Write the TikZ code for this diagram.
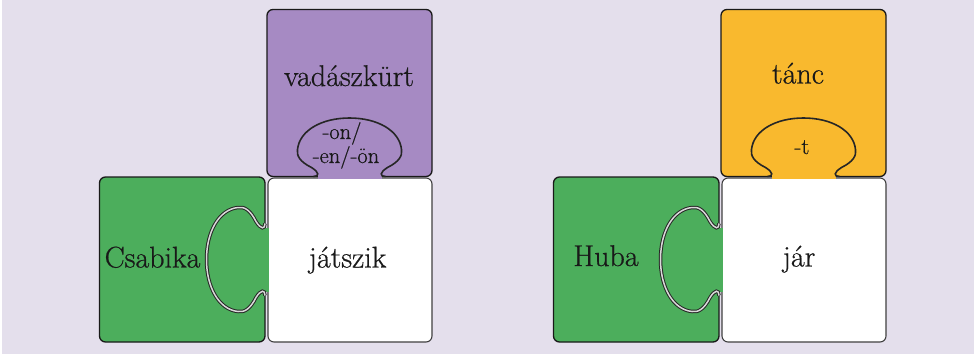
\documentclass[tikz,border=0pt]{standalone}
\usepackage{fontspec}
\newfontfamily\piecefont{Latin Modern Roman}[FakeBold=0.6]
\definecolor{bg}{HTML}{E4DFEC}
\definecolor{lilac}{HTML}{A68AC3}
\definecolor{leaf}{HTML}{4CAE5C}
\definecolor{amber}{HTML}{F9B92E}
\begin{document}
\begin{tikzpicture}[x=1pt,y=1pt,
  piece/.style={draw=black!90, line width=1.3pt, rounded corners=6pt},
  blank/.style={fill=white, draw=black!75, line width=1.1pt, rounded corners=6pt},
  bulb/.style={draw=black!85, line width=1.6pt},
  hole/.style={draw=black!85, line width=1pt, double=white!85!black, double distance=1.5pt},
  lbl/.style={font=\piecefont\fontsize{30}{32}\selectfont, anchor=base, inner sep=0pt, text=black!90},
  sfx/.style={font=\piecefont\fontsize{22.5}{24}\selectfont, anchor=base, inner sep=0pt, text=black!90},
  tabpath/.pic={\path[pic actions] (-36,0) .. controls (-30,0) and (-30,4) .. (-38,9)
     .. controls (-50,15) and (-53,21) .. (-52,27)
     .. controls (-50,46) and (-28,58.5) .. (0,58.5)
     .. controls (28,58.5) and (50,46) .. (52,27)
     .. controls (53,21) and (50,15) .. (38,9)
     .. controls (30,4) and (30,0) .. (36,0);}]
\useasboundingbox (0,0) rectangle (974,-354);
\fill[bg] (0,0) rectangle (974,-354);
\fill[white] (0,0) rectangle (2,-354);

\foreach \dx/\top in {0/lilac, 454/amber}{
  \begin{scope}[xshift=\dx pt]
    % white piece
    \path[blank] (268,-178) rectangle (432,-342);
    % green piece
    \path[piece, fill=leaf] (99.5,-177) rectangle (265,-342);
    % top piece
    \path[piece, fill=\top] (267,-9.5) rectangle (432,-176.5);
    % neck patches
    \fill[\top] (317.5,-174.6) rectangle (381.5,-179.4);
    \fill[leaf] (263.4,-227.5) rectangle (269.4,-291.5);
    % tab and hole outlines
    \pic[bulb] at (349.5,-176.5) {tabpath};
    \pic[hole, rotate=90] at (265,-259.5) {tabpath};
  \end{scope}
}

\node[lbl] (vk) at (349,-86) {vadászkürt};
\node[sfx] (sa) at (342,-139) {-on/};
\node[sfx] (sb) at (346,-163) {-en/-ön};
\node[lbl] (cs) at (152.5,-267.5) {Csabika};
\node[lbl] (jt) at (347.5,-267.5) {játszik};

\node[lbl] (tc) at (798,-83.5) {tánc};
\node[sfx] (tt) at (802,-154) {-t};
\node[lbl] (hb) at (606,-266) {Huba};
\node[lbl] (jr) at (799,-266.5) {jár};
\end{tikzpicture}
\end{document}
